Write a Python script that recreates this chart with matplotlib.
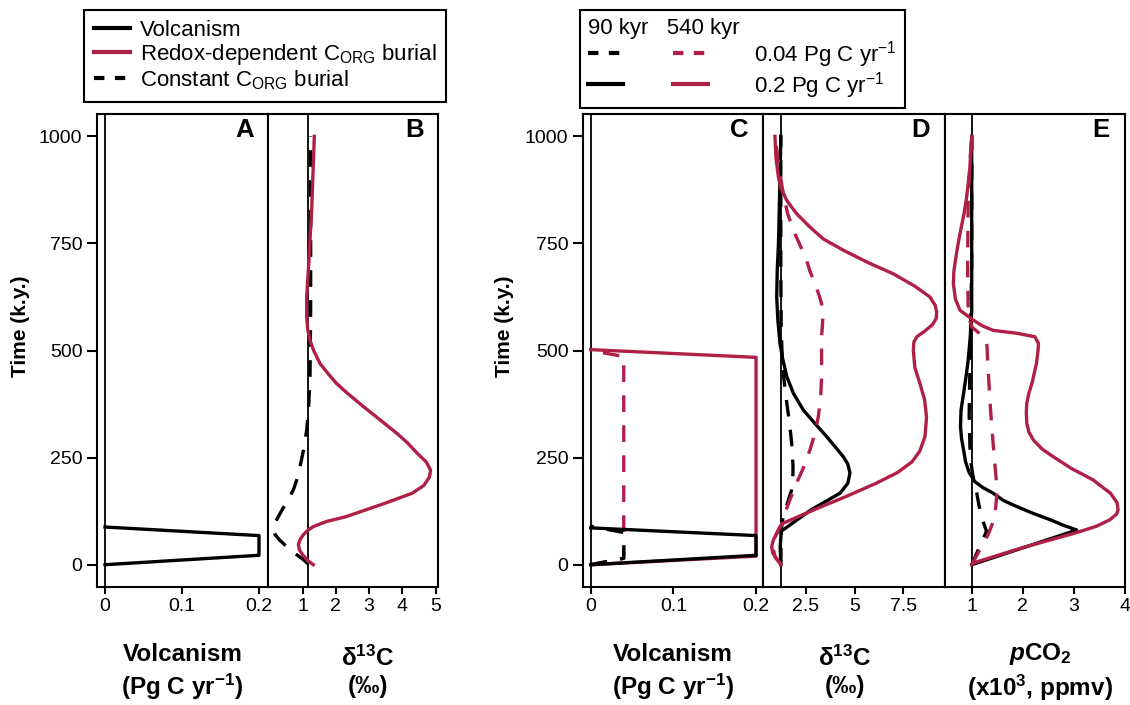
import matplotlib.pyplot as plt
from matplotlib.lines import Line2D
from matplotlib.legend_handler import HandlerTuple

plt.rcParams['font.family'] = 'Liberation Sans'
plt.rcParams['mathtext.fontset'] = 'custom'
plt.rcParams['mathtext.rm'] = 'Liberation Sans'
plt.rcParams['mathtext.it'] = 'Liberation Sans:italic'
plt.rcParams['mathtext.bf'] = 'Liberation Sans:bold'
plt.rcParams['mathtext.bfit'] = 'Liberation Sans:italic:bold'
plt.rcParams['mathtext.default'] = 'regular'

RED = '#B01F45'
DASH = (0, (5, 4))

# ---- panel A / B : 90 kyr pulse, 0.2 Pg C/yr ----
volc_t = [0, 22, 68, 88]
volc_f = [0, 0.2, 0.2, 0]

d13c_const_t = [0, 10, 20, 30, 45, 58, 70, 81, 90, 100, 120, 140, 160, 175, 200, 229, 270,
                314, 370, 439, 600, 1000]
d13c_const = [1.18, 1.05, 0.88, 0.70, 0.48, 0.30, 0.17, 0.12, 0.13, 0.18, 0.32, 0.47, 0.62,
              0.72, 0.83, 0.92, 1.03, 1.12, 1.18, 1.22, 1.24, 1.24]

d13c_redox_t = [0, 10, 23, 35, 47, 60, 70, 80, 89, 101, 112, 124, 144, 167, 185, 205, 221,
                240, 260, 285, 307, 340, 369, 400, 423, 450, 470, 500, 524, 550, 578, 625,
                687, 827, 1000]
d13c_redox = [1.32, 1.15, 1.0, 0.9, 0.87, 0.93, 1.02, 1.15, 1.32, 1.72, 2.3, 2.75, 3.5, 4.3,
              4.65, 4.82, 4.85, 4.72, 4.45, 4.15, 3.83, 3.3, 2.83, 2.35, 2.02, 1.72, 1.52,
              1.33, 1.22, 1.15, 1.12, 1.12, 1.17, 1.27, 1.35]
d13c_base_b = 1.16

# ---- panel C : volcanism scenarios ----
v90_hi_t = [0, 22, 68, 86]
v90_hi_f = [0, 0.2, 0.2, 0]
v90_lo_t = [0, 15, 75, 90]
v90_lo_f = [0, 0.04, 0.04, 0]
v540_hi_t = [0, 20, 484, 502]
v540_hi_f = [0, 0.2, 0.2, 0]
v540_lo_t = [0, 15, 486, 500]
v540_lo_f = [0, 0.04, 0.04, 0]

# ---- panel D : d13C ----
d_90hi_t = [0, 40, 78, 128, 150, 167, 190, 214, 235, 252, 275, 299, 330, 361, 400, 439, 480,
            516, 570, 625, 690, 749, 904, 1000]
d_90hi = [1.2, 1.17, 1.22, 2.75, 3.6, 4.25, 4.65, 4.76, 4.65, 4.42, 4.0, 3.56, 2.95, 2.36,
          1.85, 1.51, 1.3, 1.16, 1.05, 0.99, 1.02, 1.08, 1.16, 1.2]
d_90lo_t = [0, 80, 115, 145, 175, 200, 230, 284, 330, 377, 410, 447, 500, 550, 700, 1000]
d_90lo = [1.2, 1.22, 1.33, 1.55, 1.76, 1.82, 1.83, 1.76, 1.65, 1.51, 1.42, 1.33, 1.26, 1.22,
          1.2, 1.2]
d_540hi_t = [0, 4, 15, 28, 43, 58, 72, 89, 97, 130, 160, 190, 215, 240, 265, 299, 345, 385,
             423, 460, 501, 520, 532, 545, 560, 575, 590, 605, 625, 650, 679, 705, 734, 760,
             788, 820, 850, 880, 904, 950, 1000]
d_540hi = [1.2, 1.16, 0.95, 0.78, 0.73, 0.82, 0.98, 1.16, 1.33, 3.0, 4.6, 6.1, 7.2, 7.95,
           8.35, 8.62, 8.70, 8.6, 8.36, 8.1, 8.02, 8.05, 8.2, 8.6, 9.0, 9.2, 9.22, 9.15, 8.87,
           8.1, 6.99, 5.7, 4.42, 3.4, 2.70, 2.0, 1.51, 1.2, 1.08, 0.95, 0.90]
d_540lo_t = [0, 20, 43, 70, 95, 125, 155, 182, 225, 268, 305, 345, 390, 439, 490, 532, 565,
             594, 625, 656, 685, 710, 745, 780, 820, 866, 900, 950, 1000]
d_540lo = [1.2, 0.9, 0.78, 0.95, 1.25, 1.45, 1.7, 1.93, 2.35, 2.70, 2.95, 3.13, 3.25, 3.30,
           3.30, 3.30, 3.35, 3.39, 3.2, 2.96, 2.7, 2.53, 2.2, 1.85, 1.55, 1.33, 1.2, 1.05, 0.9]
d13c_base_d = 1.2

# ---- panel E : pCO2 (x1000 ppmv) ----
p_90hi_t = [0, 81, 92, 105, 120, 136, 150, 167, 180, 194, 215, 240, 268, 295, 322, 360, 400,
            440, 477, 530, 594, 1000]
p_90hi = [1.0, 3.06, 2.8, 2.54, 2.2, 1.88, 1.62, 1.42, 1.22, 1.06, 0.95, 0.88, 0.84, 0.8,
          0.78, 0.79, 0.84, 0.89, 0.93, 0.97, 1.0, 1.0]
p_90lo_t = [0, 78, 109, 140, 167, 210, 250, 350, 500, 700, 1000]
p_90lo = [1.0, 1.29, 1.2, 1.14, 1.10, 1.02, 0.97, 0.95, 0.97, 1.0, 1.0]
p_540hi_t = [0, 4, 40, 75, 90, 105, 118, 128, 145, 167, 185, 198, 225, 252, 270, 291, 310,
             330, 355, 377, 400, 423, 470, 500, 516, 532, 540, 547, 558, 571, 594, 620, 656,
             685, 710, 740, 773, 820, 858, 920, 1000]
p_540hi = [1.0, 1.03, 2.0, 3.06, 3.45, 3.71, 3.84, 3.87, 3.85, 3.72, 3.52, 3.38, 2.95, 2.6,
           2.38, 2.21, 2.12, 2.08, 2.07, 2.08, 2.12, 2.18, 2.27, 2.3, 2.31, 2.24, 1.9, 1.42,
           1.2, 1.03, 0.77, 0.68, 0.64, 0.65, 0.68, 0.72, 0.77, 0.85, 0.90, 0.96, 1.0]
p_540lo_t = [0, 35, 70, 109, 160, 200, 240, 283, 360, 439, 480, 510, 525, 535, 545, 555, 575,
             600, 700, 850, 950, 1000]
p_540lo = [1.0, 1.16, 1.32, 1.45, 1.49, 1.48, 1.45, 1.42, 1.37, 1.33, 1.31, 1.30, 1.28, 1.2,
           1.1, 1.0, 0.95, 0.93, 0.92, 0.93, 0.97, 1.0]

W, H = 1130, 705
fig = plt.figure(figsize=(W / 100, H / 100), dpi=100)


def add_ax(x0, x1):
    return fig.add_axes([x0 / W, 1 - 587 / H, (x1 - x0) / W, 473 / H])


def style(ax, xlim, ticks, labels, yaxis=False):
    ax.set_xlim(*xlim)
    ax.set_ylim(-52, 1052)
    ax.set_xticks(ticks)
    ax.set_xticklabels(labels)
    ax.tick_params(axis='x', length=5, width=1.5, labelsize=14, pad=3)
    if yaxis:
        ax.set_yticks([0, 250, 500, 750, 1000])
        ax.tick_params(axis='y', length=7.5, width=1.5, labelsize=14, pad=3)
    else:
        ax.set_yticks([])
    for s in ax.spines.values():
        s.set_linewidth(1.5)


def letter(ax, s):
    ax.text(0.865, 0.966, s, transform=ax.transAxes, ha='center', va='center',
            fontsize=18.5, fontweight='bold')


def xlab(ax, x, s):
    ax.text(x, -0.18, s, transform=ax.transAxes, ha='center', va='center',
            fontsize=17.5, fontweight='bold', linespacing=1.25)


LW = 2.4

axA = add_ax(97, 268)
axB = add_ax(268, 438)
axC = add_ax(583, 763.3)
axD = add_ax(763.3, 945)
axE = add_ax(945, 1125)

# A
axA.axvline(0, color='black', lw=1.3)
axA.plot(volc_f, volc_t, color='black', lw=LW)
style(axA, (-0.0104, 0.2117), [0, 0.1, 0.2], ['0', '0.1', '0.2'], yaxis=True)
letter(axA, 'A')
xlab(axA, 0.5, 'Volcanism\n(Pg C yr$^{\\mathbf{-1}}$)')

# B
axB.axvline(d13c_base_b, color='black', lw=1.3)
axB.plot(d13c_const, d13c_const_t, color='black', lw=LW, ls=DASH)
axB.plot(d13c_redox, d13c_redox_t, color=RED, lw=LW)
style(axB, (-0.045, 5.075), [1, 2, 3, 4, 5], ['1', '2', '3', '4', '5'])
letter(axB, 'B')
xlab(axB, 0.588, 'δ$^{\\mathbf{13}}$C\n(‰)')

# C
axC.axvline(0, color='black', lw=1.3)
axC.plot(v540_lo_f, v540_lo_t, color=RED, lw=LW, ls=DASH)
axC.plot(v540_hi_f, v540_hi_t, color=RED, lw=LW)
axC.plot(v90_lo_f, v90_lo_t, color='black', lw=LW, ls=DASH)
axC.plot(v90_hi_f, v90_hi_t, color='black', lw=LW)
style(axC, (-0.0093, 0.2088), [0, 0.1, 0.2], ['0', '0.1', '0.2'], yaxis=True)
letter(axC, 'C')
xlab(axC, 0.5, 'Volcanism\n(Pg C yr$^{\\mathbf{-1}}$)')

# D
axD.axvline(d13c_base_d, color='black', lw=1.3)
axD.plot(d_90lo, d_90lo_t, color='black', lw=LW, ls=DASH)
axD.plot(d_90hi, d_90hi_t, color='black', lw=LW)
axD.plot(d_540lo, d_540lo_t, color=RED, lw=LW, ls=DASH)
axD.plot(d_540hi, d_540hi_t, color=RED, lw=LW)
style(axD, (0.30, 9.65), [2.5, 5, 7.5], ['2.5', '5', '7.5'])
letter(axD, 'D')
xlab(axD, 0.45, 'δ$^{\\mathbf{13}}$C\n(‰)')

# E
axE.axvline(1, color='black', lw=1.3)
axE.plot(p_90lo, p_90lo_t, color='black', lw=LW, ls=DASH)
axE.plot(p_90hi, p_90hi_t, color='black', lw=LW)
axE.plot(p_540lo, p_540lo_t, color=RED, lw=LW, ls=DASH)
axE.plot(p_540hi, p_540hi_t, color=RED, lw=LW)
style(axE, (0.476, 4.006), [1, 2, 3, 4], ['1', '2', '3', '4'])
letter(axE, 'E')
xlab(axE, 0.528, '$\\mathbfit{p}$CO$_{\\mathbf{2}}$\n(x10$^{\\mathbf{3}}$, ppmv)')

fig.text(21 / W, 1 - 326 / H, 'Time (k.y.)', rotation=90, ha='center', va='center',
         fontsize=15, fontweight='bold')
fig.text(505 / W, 1 - 326 / H, 'Time (k.y.)', rotation=90, ha='center', va='center',
         fontsize=15, fontweight='bold')

# legends
h_volc = Line2D([], [], color='black', lw=3)
h_redox = Line2D([], [], color=RED, lw=3)
h_const = Line2D([], [], color='black', lw=3, ls=(0, (2.5, 2.5)))
leg1 = fig.legend([h_volc, h_redox, h_const],
                  ['Volcanism', 'Redox-dependent C$_{ORG}$ burial', 'Constant C$_{ORG}$ burial'],
                  loc='upper left', bbox_to_anchor=(84 / W, 1 - 10 / H), borderaxespad=0,
                  fontsize=16, handlelength=1.6, handletextpad=0.45, labelspacing=0.05,
                  borderpad=0.45, fancybox=False, edgecolor='black', framealpha=1)
leg1.get_frame().set_linewidth(1.5)

h_bd = Line2D([], [], color='black', lw=3, ls=(0, (2.5, 2.5)))
h_rd = Line2D([], [], color=RED, lw=3, ls=(0, (2.5, 2.5)))
h_bs = Line2D([], [], color='black', lw=3)
h_rs = Line2D([], [], color=RED, lw=3)
leg2 = fig.legend([(h_bd, h_rd), (h_bs, h_rs)],
                  ['0.04 Pg C yr$^{-1}$', '0.2 Pg C yr$^{-1}$'],
                  handler_map={tuple: HandlerTuple(ndivide=None, pad=2.25)},
                  title='90 kyr   540 kyr', title_fontsize=16, alignment='left',
                  loc='upper left', bbox_to_anchor=(580 / W, 1 - 10 / H), borderaxespad=0,
                  fontsize=16, handlelength=5.4, handletextpad=2.1, labelspacing=0.0,
                  borderpad=0.35, fancybox=False, edgecolor='black', framealpha=1)
leg2.get_frame().set_linewidth(1.5)

fig.savefig('out.png', dpi=100)
